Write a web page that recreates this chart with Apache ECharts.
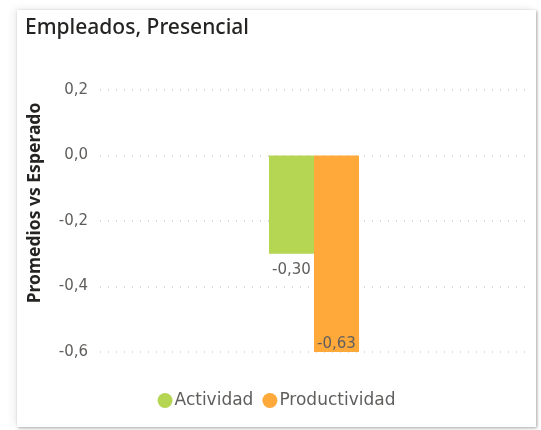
<!DOCTYPE html>
<html>
<head>
<meta charset="utf-8">
<script src="https://cdn.jsdelivr.net/npm/echarts@6/dist/echarts.min.js"></script>
<style>
  html, body { margin: 0; padding: 0; background: #ffffff; }
  #card {
    position: absolute; left: 17px; top: 10px; width: 519px; height: 417px;
    background: #ffffff;
    box-shadow: 1px 1px 3px rgba(0,0,0,0.35), -4px -2px 8px rgba(0,0,0,0.06);
  }
  #chart { width: 519px; height: 417px; }
</style>
</head>
<body>
<div id="card"><div id="chart"></div></div>
<script>
// data
var categories = ['Empleados'];
var seriesNames = ['Actividad', 'Productividad'];
var actividad = [-0.30];
var productividad = [-0.63];
var colors = ['#B5D653', '#FFA93A'];

function fmt(v) {
    return v.toFixed(2).replace('.', ',');
}

var chart = echarts.init(document.getElementById('chart'));
var option = {
    animation: false,
    title: {
        text: 'Empleados, Presencial',
        left: 3,
        top: 3,
        textStyle: {
            fontFamily: 'Noto Sans',
            fontSize: 21,
            fontWeight: 500,
            color: '#252423'
        }
    },
    legend: {
        data: seriesNames,
        bottom: 13,
        left: 'center',
        icon: 'circle',
        itemWidth: 15,
        itemHeight: 15,
        itemGap: 9,
        textStyle: {
            fontFamily: 'DejaVu Sans',
            fontSize: 17,
            color: '#605E5C',
            padding: [0, 0, 0, -3]
        }
    },
    grid: {
        left: 83,
        right: 8,
        top: 80,
        bottom: 75
    },
    xAxis: {
        type: 'category',
        data: categories,
        axisLine: { show: false },
        axisTick: { show: false },
        axisLabel: { show: false }
    },
    yAxis: {
        type: 'value',
        min: -0.6,
        max: 0.2,
        interval: 0.2,
        name: 'Promedios vs Esperado',
        nameLocation: 'middle',
        nameGap: 56,
        nameTextStyle: {
            fontFamily: 'Noto Sans',
            fontSize: 17.5,
            fontWeight: 'bold',
            color: '#252423',
            padding: [0, 0, 0, 36]
        },
        axisLabel: {
            margin: 12,
            fontFamily: 'DejaVu Sans',
            fontSize: 15,
            color: '#605E5C',
            formatter: function (v) { return v.toFixed(1).replace('.', ','); }
        },
        splitLine: {
            lineStyle: { color: '#CFCDCB', type: [1, 7], width: 1.5 }
        }
    },
    series: [{
        name: seriesNames[0],
        type: 'bar',
        data: actividad,
        barWidth: 45,
        barGap: '0%',
        itemStyle: { color: colors[0] },
        label: {
            show: true,
            position: 'bottom',
            distance: 9,
            fontFamily: 'DejaVu Sans',
            fontSize: 15,
            color: '#605E5C',
            formatter: function (p) { return fmt(p.value); }
        }
    }, {
        name: seriesNames[1],
        type: 'bar',
        data: productividad,
        barWidth: 45,
        barGap: '0%',
        itemStyle: { color: colors[1] },
        label: {
            show: true,
            position: 'insideBottom',
            distance: 0,
            fontFamily: 'DejaVu Sans',
            fontSize: 15,
            color: '#605E5C',
            formatter: function (p) { return fmt(p.value); }
        }
    }]
};
chart.setOption(option);
</script>
</body>
</html>
